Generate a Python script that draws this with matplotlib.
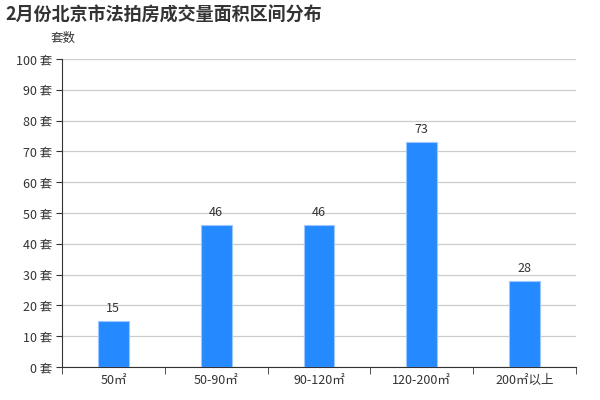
from matplotlib import pyplot as plt
import numpy as np

plt.rcParams['font.family'] = ['Noto Sans CJK SC', 'DejaVu Sans']

categories = ["50㎡", "50-90㎡", "90-120㎡", "120-200㎡", "200㎡以上"]
counts = [15, 46, 46, 73, 28]
yticks = [0, 10, 20, 30, 40, 50, 60, 70, 80, 90, 100]
ytick_labels = ["%d 套" % v for v in yticks]

fig = plt.figure(figsize=(6, 4), dpi=100)
# axes box in pixels: left 62, right 576, top 59, bottom 367
ax = fig.add_axes([62 / 600, 1 - 367 / 400, 514 / 600, 308 / 400])

x = np.arange(len(categories))
bars = ax.bar(x, counts, width=0.3, color="#2589ff", edgecolor="#9cc7ff", linewidth=0.8, zorder=3)
for xi, v in zip(x, counts):
    ax.text(xi, v + 2, str(v), ha="center", va="bottom", fontsize=9, color="#333333")

ax.set_xlim(-0.5, len(categories) - 0.5)
ax.set_ylim(0, 100)
ax.set_yticks(yticks)
ax.set_yticklabels(ytick_labels, fontsize=9, color="#333333")
ax.set_xticks(x)
ax.set_xticklabels(categories, fontsize=9, color="#333333")
ax.tick_params(axis="x", length=0, pad=5)
ax.set_xticks(np.arange(-0.5, len(categories)), minor=True)
ax.tick_params(axis="x", which="minor", length=5, color="#333333")
ax.tick_params(axis="y", length=4, color="#333333", pad=3)

ax.grid(axis="y", color="#cccccc", linewidth=0.9, zorder=0)
for s in ["top", "right"]:
    ax.spines[s].set_visible(False)
ax.spines["left"].set_color("#333333")
ax.spines["bottom"].set_color("#333333")

fig.text(5 / 600, 1 - 15 / 400, "2月份北京市法拍房成交量面积区间分布", fontsize=13,
         fontweight="bold", color="#333333", va="center", ha="left")
fig.text(63 / 600, 1 - 38 / 400, "套数", fontsize=9, color="#333333", va="center", ha="center")

fig.savefig("out.png", dpi=100)
